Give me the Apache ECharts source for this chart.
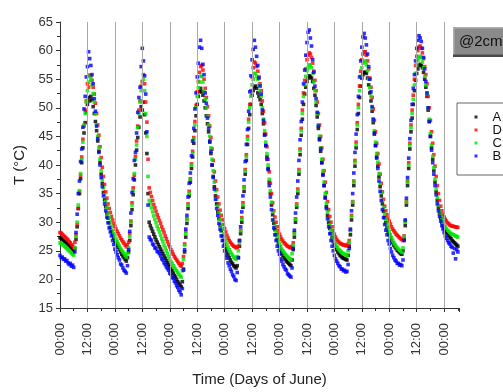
<!DOCTYPE html>
<html>
<head>
<meta charset="utf-8">
<script src="https://cdn.jsdelivr.net/npm/echarts@6/dist/echarts.min.js"></script>
<style>
  html, body {margin: 0; padding: 0; background: #fff;}
  #chart {width: 503px; height: 392px;}
</style>
</head>
<body>
<div id="chart"></div>
<script>
// logger readings every half hour, starting 00:00 on the first day
const STEP = 0.5;
const seriesNames = ['A', 'D', 'C', 'B'];
const seriesColors = ['#000000', '#ff0000', '#00e600', '#0000ff'];
const tickLabels = ['00:00', '12:00'];

const tempA = [
  27.3, 27.2, 27.0, 26.8, 26.6, 26.5, 26.3, 26.1, 25.9, 25.7, 25.5, 25.2, 25.0,
  25.4, 27, 29.2, 32.4, 35, 37.6, 40.4, 43, 45.6, 47.4, 49.2, 50.6, 51.8, 51.2,
  52, 51.4, 50.2, 49, 47.6, 46, 44.2, 42.4, 40.4, 38.4, 36.8, 35.2, 33.9, 32.7, 31.6, 30.7,
  29.9, 29.1, 28.4, 27.8, 27.2, 26.7, 26.3, 25.9, 25.6, 25.2, 24.8, 24.4, 24.1, 23.8, 23.5, 23.2,
  23.8, 24.8, 26.8, 29.4, 32.2, 34.8, 37.4, 40, 42.6, 44.8, 46.6, 48.4, 50.2, 49.6, 51,
  48.8, 45.6, 42, 35, 30, 29.4, 28.9, 28.4, 27.9, 27.4, 26.9, 26.5, 26.1, 25.7, 25.3, 24.9, 24.5,
  24.1, 23.7, 23.3, 22.9, 22.6, 22.2, 21.8, 21.5, 21.1, 20.7, 20.4, 20.0, 19.6, 19.3, 19.0, 18.7,
  19.6, 21.8, 24.8, 27.4, 29.8, 32.4, 34.6, 37, 39.4, 41.4, 43.8, 46, 48.6, 50.6, 52, 52.8, 53.4,
  52.8, 52.2, 51.2, 50, 48.6, 47.2, 45.8, 44, 42, 40, 38, 36.2, 34.6, 33.2, 31.8, 30.6,
  29.5, 28.5, 27.6, 26.8, 26.1, 25.4, 24.8, 24.3, 23.8, 23.4, 23, 22.7, 22.4, 22.2, 22,
  22.4, 23.8, 25.8, 28, 30, 32.6, 35.4, 38.4, 40.8, 43.6, 46.4, 48.8, 50.6, 52.2, 53, 53.6,
  53.8, 53.4, 52.6, 52, 51.4, 50.6, 49, 47.2, 45.4, 43.4, 41.4, 39.4, 37, 35, 33, 31.3,
  29.8, 28.7, 27.8, 27, 26.3, 25.7, 25.1, 24.6, 24.2, 23.8, 23.5, 23.2, 23, 22.8, 22.6, 22.4,
  23.4, 25.2, 27.4, 30, 32.6, 35, 38.4, 41.8, 45.2, 48, 50.6, 52.4, 53.6, 54.6, 55.2, 55.6,
  55.4, 55.2, 54.6, 53.4, 52.2, 50.4, 48.4, 46.4, 44.4, 42.4, 40.4, 38.4, 36.4, 34.4, 32.7, 31.2,
  29.9, 28.9, 28, 27.3, 26.6, 26.1, 25.6, 25.2, 24.8, 24.5, 24.2, 24, 23.8, 23.7, 23.6, 23.5, 23.4,
  24.2, 25.8, 27.8, 30.4, 33, 36.4, 39.8, 43, 46.2, 49, 51.8, 53.8, 55.2, 55.8, 56.2,
  56.2, 56, 55.2, 54, 52.6, 51.2, 49.4, 47.4, 45.4, 43.4, 41.4, 39.8, 37.9, 36.2, 34.6, 33.2,
  31.9, 30.8, 29.9, 29.1, 28.4, 27.8, 27.3, 26.8, 26.4, 26, 25.7, 25.4, 25.1, 24.9, 24.7, 24.5, 24.4,
  25, 27, 29.4, 33, 36.4, 39.4, 42.8, 45.8, 48.2, 50.6, 53, 54.8, 56, 56.8, 57.4, 57.6,
  57.4, 57, 56.2, 55, 53.6, 52, 49.6, 47.6, 45, 43, 41, 39, 37, 35.3, 33.8, 32.5,
  31.5, 30.7, 30, 29.4, 29, 28.6, 28.3, 28, 27.7, 27.4, 27.1, 26.8, 26.6, 26.4, 26.2, 26, 25.8
];

const tempD = [
  28.2, 28.1, 27.9, 27.7, 27.5, 27.3, 27.1, 26.9, 26.6, 26.4, 26.1, 25.9, 25.6,
  26.5, 27.8, 29.6, 32.4, 35.3, 38.2, 41.4, 44.5, 46.8, 49.6, 51.2, 54.2, 53.6, 55.7,
  55.6, 54.8, 53.6, 52.4, 50.8, 49, 47, 45.2, 43.2, 41.3, 39.6, 38, 36.6, 35.3, 34.2, 33.2,
  32.4, 31.7, 31, 30.4, 29.8, 29.3, 28.8, 28.4, 28, 27.6, 27.2, 26.9, 26.6, 26.3, 26, 25.7,
  26, 26.5, 28, 30.2, 33.4, 36, 38.2, 41.5, 44.2, 46.8, 49.6, 51.2, 53.8, 54.6, 55.8,
  54.2, 51, 47.5, 41, 36, 35.2, 34.5, 33.8, 33.1, 32.5, 31.9, 31.3, 30.8, 30.3, 29.8, 29.2, 28.7,
  28.2, 27.6, 27.1, 26.6, 26.1, 25.7, 25.2, 24.8, 24.4, 24.0, 23.7, 23.4, 23.1, 22.8, 22.5, 22.3,
  22.8, 24, 26.2, 28.4, 30.6, 33.2, 35.4, 37.6, 40.2, 42.4, 44.8, 47.6, 50.4, 52.8, 54.6, 56.2, 57.2,
  57.4, 56.6, 55, 53.4, 51.8, 50.2, 48.6, 46.8, 44.8, 42.8, 40.8, 38.8, 37.2, 35.7, 34.4, 33.2,
  32.1, 31.2, 30.4, 29.6, 28.9, 28.3, 27.7, 27.2, 26.8, 26.5, 26.2, 26, 25.8, 25.7, 25.5,
  25.6, 25.8, 26.8, 28.6, 30.8, 33.4, 36.2, 39.2, 41.8, 45, 48, 50.6, 53, 55.4, 57, 58,
  57.8, 57.2, 56.4, 55.4, 54.2, 53, 51.2, 49.4, 47.4, 45.4, 43.2, 41, 38.8, 36.8, 35, 33.4,
  32, 30.9, 30, 29.2, 28.5, 27.9, 27.4, 27, 26.7, 26.4, 26.2, 26, 25.8, 25.7, 25.6, 25.5,
  25.8, 26.4, 28.2, 30.6, 33.2, 35.8, 39.2, 42.8, 46.4, 49.6, 52.6, 54.8, 56.8, 58.4, 59.2, 59.6,
  59.4, 58.8, 57.8, 56.4, 54.8, 53, 51, 49, 47, 45, 43, 41, 39, 37, 35.2, 33.6,
  32.2, 31, 30, 29.2, 28.5, 27.9, 27.4, 27, 26.7, 26.5, 26.3, 26.2, 26.1, 26, 26, 25.9, 25.9,
  26.2, 26.8, 28.6, 31.2, 33.6, 37.2, 40.8, 44, 47.4, 50.6, 53.8, 56.4, 58.4, 59.4, 59.8,
  59.8, 59.2, 58.2, 56.8, 55.2, 53.6, 51.8, 49.8, 47.8, 45.8, 43.8, 42, 40.2, 38.4, 36.8, 35.3,
  34, 32.8, 32.0, 31.3, 30.7, 30.2, 29.7, 29.2, 28.8, 28.5, 28.2, 27.9, 27.7, 27.5, 27.3, 27.1, 27.0,
  26.8, 27.6, 30.2, 33.6, 37.2, 40.4, 43.8, 47, 49.6, 52.2, 55, 57.4, 59, 60, 60.6, 60.8,
  60.4, 59.6, 58.6, 57.2, 55.8, 54.2, 52, 50, 47.8, 45.8, 43.8, 41.8, 39.8, 38, 36.4, 35,
  33.8, 32.8, 32, 31.4, 30.9, 30.5, 30.2, 29.9, 29.7, 29.5, 29.4, 29.3, 29.3, 29.2, 29.2, 29.1, 29.1
];

const tempC = [
  26.4, 26.3, 26.1, 26.0, 25.8, 25.6, 25.4, 25.2, 25.0, 24.8, 24.6, 24.4, 24.2,
  25.5, 27.5, 30, 33, 35.5, 38.5, 41, 44, 47, 49, 51, 53, 54.5, 55.5,
  55, 54, 52.5, 51, 49, 47, 45, 43, 41, 39, 37.5, 36, 34.8, 33.6, 32.6, 31.6,
  30.8, 30, 29.3, 28.6, 28, 27.5, 27, 26.6, 26.2, 25.8, 25.4, 25.1, 24.8, 24.5, 24.2, 23.9,
  24.5, 25.5, 27.5, 30, 33, 35.5, 38.5, 41, 43.5, 46.5, 49, 51, 53, 54.5, 55,
  53, 49, 45, 38, 33.8, 33.2, 32.5, 31.8, 31.1, 30.5, 29.9, 29.3, 28.8, 28.3, 27.7, 27.1, 26.6,
  26.0, 25.5, 25.0, 24.5, 24.0, 23.5, 23.1, 22.8, 22.4, 22.1, 21.8, 21.5, 21.2, 20.9, 20.6, 20.4,
  21.5, 23.5, 26, 28, 30.5, 33, 35, 37.5, 40, 42, 44.5, 47, 50, 52, 53.5, 54.5, 55.5,
  55.5, 54.5, 53, 51.5, 50, 48.5, 47, 45, 43, 41, 39, 37, 35.5, 34, 32.8, 31.6,
  30.5, 29.6, 28.8, 28, 27.3, 26.7, 26.1, 25.6, 25.2, 24.8, 24.5, 24.2, 23.9, 23.7, 23.5,
  24, 25, 26.5, 28.5, 30.5, 33, 36, 39, 41.5, 44.5, 47.5, 50, 52, 54, 55, 56,
  56, 55.5, 55, 54, 53, 52, 50, 48, 46, 44, 42, 40, 37.5, 35.5, 33.5, 31.8,
  30.3, 29.3, 28.4, 27.6, 26.9, 26.3, 25.8, 25.3, 25, 24.7, 24.4, 24.2, 24, 23.8, 23.6, 23.5,
  24.5, 26, 28, 30.5, 33, 35.5, 39, 42.5, 46, 49, 52, 54, 55.5, 56.5, 57, 57.5,
  57.5, 57, 56, 54.5, 53, 51, 49, 47, 45, 43, 41, 39, 37, 35, 33.3, 31.8,
  30.5, 29.5, 28.6, 27.9, 27.2, 26.7, 26.2, 25.8, 25.5, 25.2, 25, 24.8, 24.6, 24.5, 24.4, 24.3, 24.2,
  25, 26.5, 28.5, 31, 33.5, 37, 40.5, 43.5, 47, 50, 53, 55.5, 57, 57.8, 58.2,
  58, 57.5, 56.5, 55, 53.5, 52, 50, 48, 46, 44, 42, 40.5, 38.5, 36.8, 35.2, 33.8,
  32.5, 31.4, 30.5, 29.7, 29, 28.4, 27.8, 27.3, 26.8, 26.4, 26.1, 25.8, 25.5, 25.3, 25.1, 24.9, 24.7,
  25.5, 27.5, 30, 33.5, 37, 40, 43.5, 46.5, 49, 51.5, 54, 56, 57.5, 58.3, 58.8, 59,
  58.8, 58, 57, 55.5, 54, 52.5, 50, 48, 45.5, 43.5, 41.5, 39.5, 37.5, 35.8, 34.3, 33,
  32, 31.2, 30.5, 30, 29.6, 29.2, 28.9, 28.6, 28.4, 28.2, 28, 27.9, 27.8, 27.7, 27.6, 27.5, 27.4
];

const tempB = [
  24.2, 23.8, 23.9, 23.5, 23.6, 23.2, 23.3, 22.9, 22.6, 22.8, 22.3, 22.5, 22.1,
  24.8, 28.2, 31.4, 35, 37.2, 40.6, 42.8, 46.6, 49.8, 52, 55.4, 57.2, 59.8, 58.6,
  57.4, 55.8, 54.2, 51.6, 49.4, 46.8, 44.6, 42.2, 40, 37.8, 36.2, 34.6, 33.2, 32, 30.9, 29.9,
  29, 28.3, 27.6, 26.8, 26.1, 25.3, 24.8, 24.3, 23.8, 23.4, 22.7, 22.5, 22, 21.6, 21.4, 21.1,
  22.4, 25.2, 28.4, 31.6, 35.2, 37.6, 40.8, 42.2, 45.6, 49.2, 51.8, 53.6, 57.2, 60.4, 58.2,
  55.6, 52.4, 45.8, 33, 27.4, 27, 26.8, 26.2, 26, 25.5, 25.4, 24.9, 24.8, 24.5, 24.1, 23.6, 23.4,
  22.9, 22.6, 22.2, 21.9, 21.6, 21.1, 20.9, 20.4, 20.2, 19.7, 19.4, 18.9, 18.6, 18.1, 17.8, 17.3,
  18.4, 21.6, 25.2, 28.8, 31.2, 34.4, 36.8, 38.6, 41.6, 44.2, 46.4, 49.8, 52.6, 55.4, 57.8, 60.6, 61.8,
  60.4, 57.6, 55.8, 52.6, 50.8, 48.2, 46.4, 44.2, 42.4, 40, 37.8, 35.8, 34, 32.4, 31.2, 29.8,
  28.8, 27.6, 26.8, 25.8, 25, 24.2, 23.7, 22.9, 22.4, 21.8, 21.4, 20.8, 20.5, 20, 19.8,
  21.2, 23.8, 26.8, 29.2, 31.8, 34.6, 37.4, 40.6, 43.6, 46.2, 49.4, 52.8, 55.6, 58.4, 60.2, 61.8,
  60.6, 59, 57.4, 55.2, 53.8, 52.4, 49.6, 47.8, 45.2, 43.4, 41, 39.2, 36.4, 34.4, 32.2, 30.4,
  29, 27.8, 26.8, 25.8, 25, 24.4, 23.6, 23.2, 22.6, 22.2, 21.8, 21.6, 21, 20.8, 20.6, 20.4,
  22, 25.4, 28.6, 31.6, 34.4, 37.2, 40.8, 44.4, 47.6, 51, 54.2, 56.6, 59.2, 61.4, 63.2, 63.6,
  62.2, 60.8, 58.4, 56.2, 53.8, 51.6, 49.2, 46.8, 44.6, 42.8, 40.4, 38.2, 36.4, 34.2, 32.4, 30.6,
  29.2, 28, 26.8, 25.8, 25, 24.2, 23.6, 23.2, 22.8, 22.4, 22.2, 21.8, 21.8, 21.5, 21.6, 21.3, 21.4,
  22.6, 25.4, 28.8, 32, 35, 38.6, 42.2, 45.4, 48.8, 52, 55.4, 58.2, 60.6, 62.4, 63,
  62.2, 61, 59.4, 57.2, 55, 52.8, 50.2, 48, 45.6, 43.4, 41.2, 39.4, 37.2, 35.4, 33.8, 32.2,
  30.8, 29.6, 28.6, 27.8, 26.8, 26.2, 25.4, 24.8, 24.2, 23.8, 23.4, 23.2, 22.8, 22.8, 22.5, 22.6, 22.4,
  23.4, 26.8, 30.4, 34.2, 37.8, 41.2, 44.6, 47.8, 50.6, 53.4, 55.8, 58.2, 60.4, 61.8, 62.6, 62.2,
  61.6, 60.4, 58.8, 56.8, 54.6, 52.6, 50, 47.6, 45, 42.6, 40.4, 38.4, 36.4, 34.8, 33.2, 32,
  31, 30.2, 29.4, 28.8, 28.2, 27.6, 27.2, 26.8, 26.4, 26.2, 25.8, 25.6, 24.6, 25.4, 23.6, 25.2, 24.8
];

const temps = [tempA, tempD, tempC, tempB];
const gridHours = [12, 24, 36, 48, 60, 72, 84, 96, 108, 120, 132, 144, 156, 168];

const font = 'Liberation Sans, Arial, sans-serif';
const myChart = echarts.init(document.getElementById('chart'));

const scatterSeries = temps.map((vals, k) => ({
  name: seriesNames[k],
  type: 'scatter',
  symbol: 'rect',
  symbolSize: 3.6,
  z: 3,
  itemStyle: {color: seriesColors[k]},
  data: vals.map((v, i) => [i * STEP, v]),
}));

myChart.setOption({
  animation: false,
  grid: {left: 60, right: 44, top: 22, bottom: 81},
  xAxis: {
    type: 'value',
    min: 0,
    max: 174.5,
    interval: 12,
    name: 'Time (Days of June)',
    nameLocation: 'middle',
    nameGap: 64,
    nameTextStyle: {fontFamily: font, fontSize: 15, color: '#222'},
    axisLine: {show: true, lineStyle: {color: '#333'}},
    axisTick: {show: true, length: 4, lineStyle: {color: '#333'}},
    minorTick: {show: true, splitNumber: 2, length: 3, lineStyle: {color: '#333'}},
    splitLine: {show: false},
    axisLabel: {
      rotate: 90,
      margin: 15,
      fontFamily: font,
      fontSize: 13,
      color: '#333',
      showMaxLabel: false,
      formatter(v) {
        return v % 24 === 0 ? tickLabels[0] : tickLabels[1];
      }
    }
  },
  yAxis: {
    type: 'value',
    min: 15,
    max: 65,
    interval: 5,
    name: 'T (°C)',
    nameLocation: 'middle',
    nameGap: 31,
    nameTextStyle: {fontFamily: font, fontSize: 15, color: '#222'},
    axisLine: {show: true, lineStyle: {color: '#333'}},
    axisTick: {show: true, length: 4, lineStyle: {color: '#333'}},
    minorTick: {show: true, splitNumber: 2, length: 3, lineStyle: {color: '#333'}},
    splitLine: {show: false},
    axisLabel: {fontFamily: font, fontSize: 13, color: '#333', margin: 7}
  },
  legend: {
    data: seriesNames,
    orient: 'vertical',
    left: 457,
    top: 103,
    padding: [7.5, 40, 12.5, 17.5],
    itemGap: 0,
    itemWidth: 3,
    itemHeight: 3,
    icon: 'rect',
    borderColor: '#666',
    borderWidth: 1,
    textStyle: {fontFamily: font, fontSize: 13, lineHeight: 13, color: '#111', padding: [0, 0, 0, 10]}
  },
  graphic: [{
    type: 'group',
    left: 453,
    top: 27,
    children: [
      {type: 'rect', shape: {x: 0, y: 0, width: 70, height: 30}, style: {fill: '#8a8a8a'}},
      {type: 'rect', shape: {x: 0, y: 0, width: 70, height: 1.5}, style: {fill: '#b0b0b0'}},
      {type: 'rect', shape: {x: 0, y: 0, width: 1.5, height: 30}, style: {fill: '#b0b0b0'}},
      {type: 'rect', shape: {x: 0, y: 27.5, width: 70, height: 2.5}, style: {fill: '#4a4a4a'}},
      {
        type: 'text', x: 6, y: 15,
        style: {text: '@2cm', fill: '#111', font: '15px ' + font, verticalAlign: 'middle'}
      }
    ]
  }],
  series: [
    {
      type: 'line',
      data: [],
      silent: true,
      z: 1,
      markLine: {
        silent: true,
        symbol: 'none',
        label: {show: false},
        lineStyle: {color: '#a8a8a8', width: 1, type: 'solid'},
        data: gridHours.map(h => ({xAxis: h}))
      }
    },
    ...scatterSeries
  ]
});
</script>
</body>
</html>
